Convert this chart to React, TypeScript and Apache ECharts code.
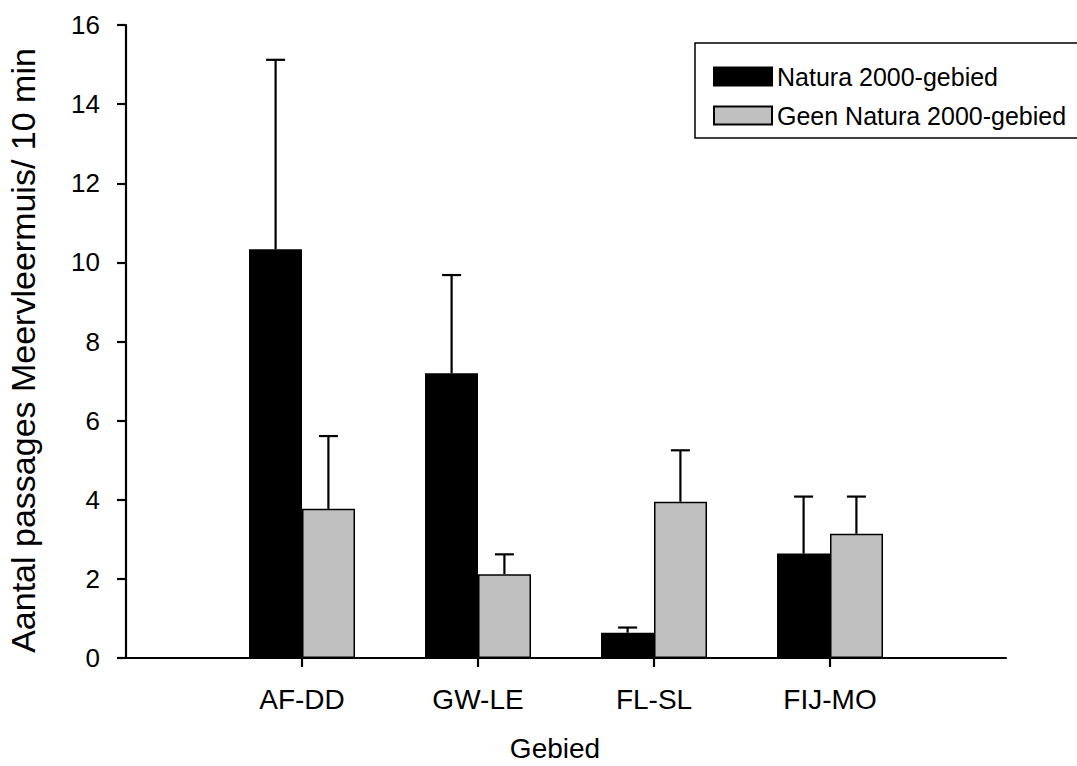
import React, { useEffect, useRef } from "react";
import * as echarts from "echarts";

const categories = ["", "AF-DD", "GW-LE", "FL-SL", "FIJ-MO", ""];
const seriesNames = ["Natura 2000-gebied", "Geen Natura 2000-gebied"];
const naturaMean = [null, 10.33, 7.2, 0.64, 2.64, null];
const naturaUpper = [null, 15.12, 9.68, 0.77, 4.08, null];
const geenMean = [null, 3.77, 2.12, 3.95, 3.14, null];
const geenUpper = [null, 5.61, 2.62, 5.25, 4.08, null];
const yTicks = { min: 0, max: 16, interval: 2 };

const FONT = "'Liberation Sans', Arial, sans-serif";

function errData(means: (number | null)[], uppers: (number | null)[]) {
  const out: number[][] = [];
  means.forEach((m, i) => {
    const u = uppers[i];
    if (m !== null && u !== null) out.push([i, m, u]);
  });
  return out;
}

function makeErrRender(sign: number) {
  return (params: any, api: any) => {
    const idx = api.value(0);
    const band = api.size([1, 0])[0];
    const off = sign * band * 0.15;
    const base = api.coord([idx, api.value(1)]);
    const top = api.coord([idx, api.value(2)]);
    const x = base[0] + off;
    const style = { stroke: "#000", lineWidth: 2.2 };
    return {
      type: "group",
      children: [
        { type: "line", shape: { x1: x, y1: base[1], x2: x, y2: top[1] }, style },
        { type: "line", shape: { x1: x - 9.5, y1: top[1], x2: x + 9.5, y2: top[1] }, style },
      ],
    };
  };
}

export default function App() {
  const ref = useRef<HTMLDivElement>(null);
  useEffect(() => {
    const chart = echarts.init(ref.current!, null, { renderer: "svg" });
    chart.setOption({
      animation: false,
      backgroundColor: "#fff",
      textStyle: { fontFamily: FONT },
      grid: {
        left: 126,
        right: 71,
        top: 25,
        bottom: 108,
        containLabel: false,
        outerBoundsMode: "none",
      },
      legend: {
        orient: "vertical",
        left: 713,
        top: 64,
        padding: 0,
        itemWidth: 58,
        itemHeight: 18,
        itemGap: 14,
        icon: "rect",
        selectedMode: false,
        data: seriesNames,
        textStyle: { fontSize: 25, color: "#000", fontFamily: FONT },
      },
      graphic: [
        {
          type: "rect",
          shape: { x: 695, y: 43, width: 400, height: 95 },
          style: { fill: "none", stroke: "#000", lineWidth: 1.5 },
          z: 10,
        },
      ],
      xAxis: {
        type: "category",
        data: categories,
        boundaryGap: false,
        name: "Gebied",
        nameLocation: "middle",
        nameGap: 76,
        nameTextStyle: { fontSize: 28, color: "#000", fontFamily: FONT, padding: [0, 22, 0, 0] },
        axisLine: { lineStyle: { color: "#000", width: 2.2 } },
        axisTick: {
          inside: false,
          length: 9,
          lineStyle: { color: "#000", width: 2.2 },
          interval: (index: number, value: string) => value !== "",
        },
        axisLabel: { fontSize: 28, color: "#000", margin: 27, fontFamily: FONT, interval: 0 },
        splitLine: { show: false },
      },
      yAxis: {
        type: "value",
        min: yTicks.min,
        max: yTicks.max,
        interval: yTicks.interval,
        name: "Aantal passages Meervleermuis/ 10 min",
        nameLocation: "middle",
        nameGap: 86,
        nameTextStyle: { fontSize: 34, color: "#000", fontFamily: FONT, padding: [0, 18, 0, 0] },
        axisLine: { show: true, lineStyle: { color: "#000", width: 2.2 } },
        axisTick: { show: true, inside: false, length: 9, lineStyle: { color: "#000", width: 2.2 } },
        axisLabel: { fontSize: 26, color: "#000", margin: 26, fontFamily: FONT },
        splitLine: { show: false },
      },
      series: [
        {
          name: seriesNames[0],
          type: "bar",
          data: naturaMean,
          barWidth: 53,
          barGap: "0%",
          itemStyle: { color: "#000", borderColor: "#000", borderWidth: 1.5 },
        },
        {
          name: seriesNames[1],
          type: "bar",
          data: geenMean,
          barWidth: 53,
          barGap: "0%",
          itemStyle: { color: "#c0c0c0", borderColor: "#000", borderWidth: 1.5 },
        },
        {
          type: "custom",
          data: errData(naturaMean, naturaUpper),
          renderItem: makeErrRender(-1),
          z: 5,
          silent: true,
        },
        {
          type: "custom",
          data: errData(geenMean, geenUpper),
          renderItem: makeErrRender(1),
          z: 5,
          silent: true,
        },
      ],
    });
    return () => chart.dispose();
  }, []);
  return (
    <div
      ref={ref}
      style={{ position: "fixed", left: 0, top: 0, width: 1077, height: 766, background: "#fff" }}
    />
  );
}
